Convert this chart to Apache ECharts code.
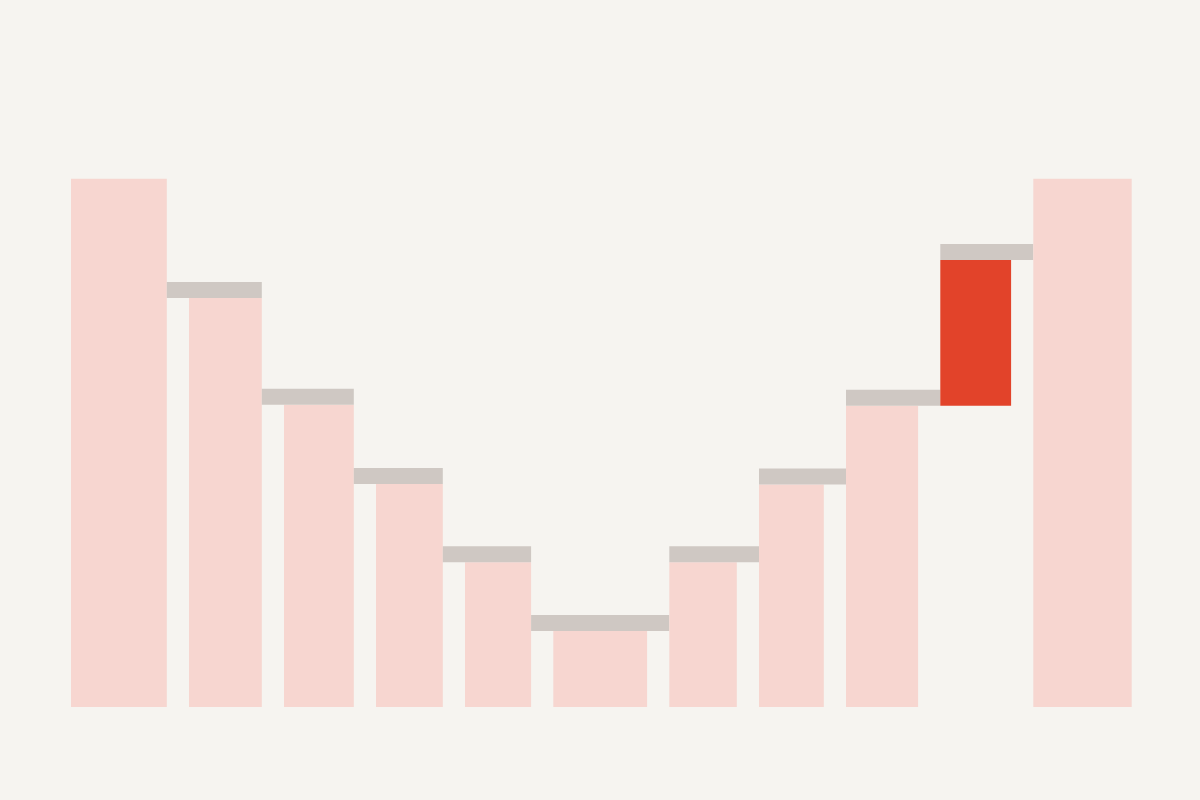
<!DOCTYPE html>
<html>
<head>
<meta charset="utf-8">
<script src="https://cdn.jsdelivr.net/npm/echarts@6/dist/echarts.min.js"></script>
<style>
  html, body { margin: 0; padding: 0; background: #F6F4F0; }
  #chart { width: 1200px; height: 800px; }
</style>
</head>
<body>
<div id="chart"></div>
<script>
// ---- data ----
const categories = ['Start', 'S1', 'S2', 'S3', 'S4', 'S5', 'S6', 'S7', 'S8', 'Gain', 'End'];
const widths = [95.8, 72.8, 69.8, 66.8, 66.1, 93.8, 67.5, 64.8, 72.1, 70.8, 98.4];
const bases  = [0, 0, 0, 0, 0, 0, 0, 0, 0, 57.0, 0];
const tops   = [100, 77.4, 57.2, 42.2, 27.4, 14.4, 27.4, 42.1, 57.0, 84.6, 100];
const kinds  = ['total', 'level', 'level', 'level', 'level', 'level', 'level', 'level', 'level', 'change', 'total'];

// ---- layout / style ----
const GAP = 22.2;
const BAND_PX = 16;
const COLORS = { total: '#F7D6D0', level: '#F7D6D0', change: '#E2432A', band: '#CFC8C3' };

const starts = [];
let acc = 0;
widths.forEach((w, i) => { starts.push(acc); acc += w + (i < widths.length - 1 ? GAP : 0); });
const xMax = acc;

const data = categories.map((c, i) => [starts[i], starts[i] + widths[i], bases[i], tops[i], i]);

function renderItem(params, api) {
  const i = api.value(4);
  const x0 = api.value(0), x1 = api.value(1), b = api.value(2), t = api.value(3);
  const p0 = api.coord([x0, t]);
  const p1 = api.coord([x1, b]);
  const children = [{
    type: 'rect',
    shape: { x: p0[0], y: p0[1], width: p1[0] - p0[0], height: p1[1] - p0[1] },
    style: { fill: COLORS[kinds[i]] }
  }];
  if (kinds[i] !== 'total') {
    let bl = x0, br = x1;
    if (i > 0 && tops[i - 1] > t) bl = starts[i - 1] + widths[i - 1];
    if (i < tops.length - 1 && tops[i + 1] > t) br = starts[i + 1];
    const q0 = api.coord([bl, t]);
    const q1 = api.coord([br, t]);
    children.push({
      type: 'rect',
      shape: { x: q0[0], y: q0[1] - BAND_PX, width: q1[0] - q0[0], height: BAND_PX },
      style: { fill: COLORS.band }
    });
  }
  return { type: 'group', children };
}

const chart = echarts.init(document.getElementById('chart'), null, { renderer: 'canvas' });
chart.setOption({
  backgroundColor: '#F6F4F0',
  animation: false,
  grid: { left: 71, right: 68.3, top: 178.7, bottom: 93 },
  xAxis: { type: 'value', min: 0, max: xMax, show: false },
  yAxis: { type: 'value', min: 0, max: 100, show: false },
  series: [{
    type: 'custom',
    renderItem,
    encode: { x: [0, 1], y: [2, 3] },
    data
  }]
});
</script>
</body>
</html>
